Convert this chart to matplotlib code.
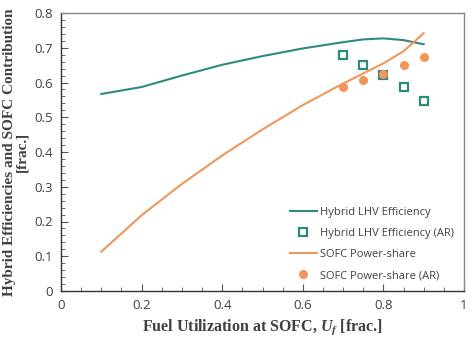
import numpy as np
import matplotlib
matplotlib.use('Agg')
import matplotlib.pyplot as plt
from matplotlib.ticker import MultipleLocator, FormatStrFormatter

plt.rcParams['mathtext.fontset'] = 'custom'
plt.rcParams['mathtext.it'] = 'Liberation Serif:italic:bold'
plt.rcParams['mathtext.rm'] = 'Liberation Serif:bold'

# model curves
uf = [0.1, 0.2, 0.3, 0.4, 0.5, 0.6, 0.7, 0.75, 0.8, 0.85, 0.9]
hybrid_eff = [0.567, 0.587, 0.620, 0.651, 0.676, 0.698, 0.716, 0.724, 0.727, 0.722, 0.710]
sofc_share = [0.113, 0.218, 0.308, 0.390, 0.465, 0.535, 0.597, 0.626, 0.655, 0.690, 0.742]

# AR data points
uf_ar = [0.7, 0.75, 0.8, 0.85, 0.9]
hybrid_eff_ar = [0.679, 0.650, 0.622, 0.586, 0.547]
sofc_share_ar = [0.586, 0.606, 0.625, 0.649, 0.672]

teal = '#2e8b7a'
orange = '#f0965c'

fig = plt.figure(figsize=(4.73, 3.38), dpi=100)
ax = fig.add_axes([61/473, 47/338, 403/473, 278/338])

ax.plot(uf, hybrid_eff, color=teal, lw=1.5, label='Hybrid LHV Efficiency')
ax.plot(uf_ar, hybrid_eff_ar, 's', mfc='none', mec=teal, mew=1.6, ms=6,
        linestyle='none', label='Hybrid LHV Efficiency (AR)')
ax.plot(uf, sofc_share, color=orange, lw=1.5, label='SOFC Power-share')
ax.plot(uf_ar, sofc_share_ar, 'o', color=orange, ms=5.5, linestyle='none',
        label='SOFC Power-share (AR)')

ax.set_xlim(0, 1)
ax.set_ylim(0, 0.8)
ax.xaxis.set_major_locator(MultipleLocator(0.2))
ax.xaxis.set_minor_locator(MultipleLocator(0.05))
ax.yaxis.set_major_locator(MultipleLocator(0.1))
ax.yaxis.set_minor_locator(MultipleLocator(0.02))
ax.xaxis.set_major_formatter(FormatStrFormatter('%g'))
ax.yaxis.set_major_formatter(FormatStrFormatter('%g'))
ax.tick_params(which='both', direction='in', top=False, right=False, color='#555555')
ax.tick_params(which='major', length=5, width=0.8, labelsize=9.5, labelcolor='#404040', pad=6)
ax.tick_params(which='minor', length=3, width=0.6)
for lab in ax.get_xticklabels() + ax.get_yticklabels():
    lab.set_fontfamily('Open Sans')

for s in ['left', 'bottom']:
    ax.spines[s].set_color('#333333')
    ax.spines[s].set_linewidth(1.0)
for s in ['top', 'right']:
    ax.spines[s].set_color('#888888')
    ax.spines[s].set_linewidth(1.0)

ax.set_xlabel(r'Fuel Utilization at SOFC, $U_f$ [frac.]',
              fontfamily='Liberation Serif', fontweight='bold', fontsize=11.5, color='#404040')
ax.set_ylabel('Hybrid Efficiencies and SOFC Contribution\n[frac.]',
              fontfamily='Liberation Serif', fontweight='bold', fontsize=11,
              color='#404040', linespacing=0.95, labelpad=4)

leg = ax.legend(loc='lower right', frameon=False, prop={'family': 'Open Sans', 'size': 8},
                handlelength=2.4, handletextpad=0.3, labelspacing=0.9,
                bbox_to_anchor=(1.0, 0.0))
for t in leg.get_texts():
    t.set_color('#404040')

fig.savefig('out.png', dpi=100)
